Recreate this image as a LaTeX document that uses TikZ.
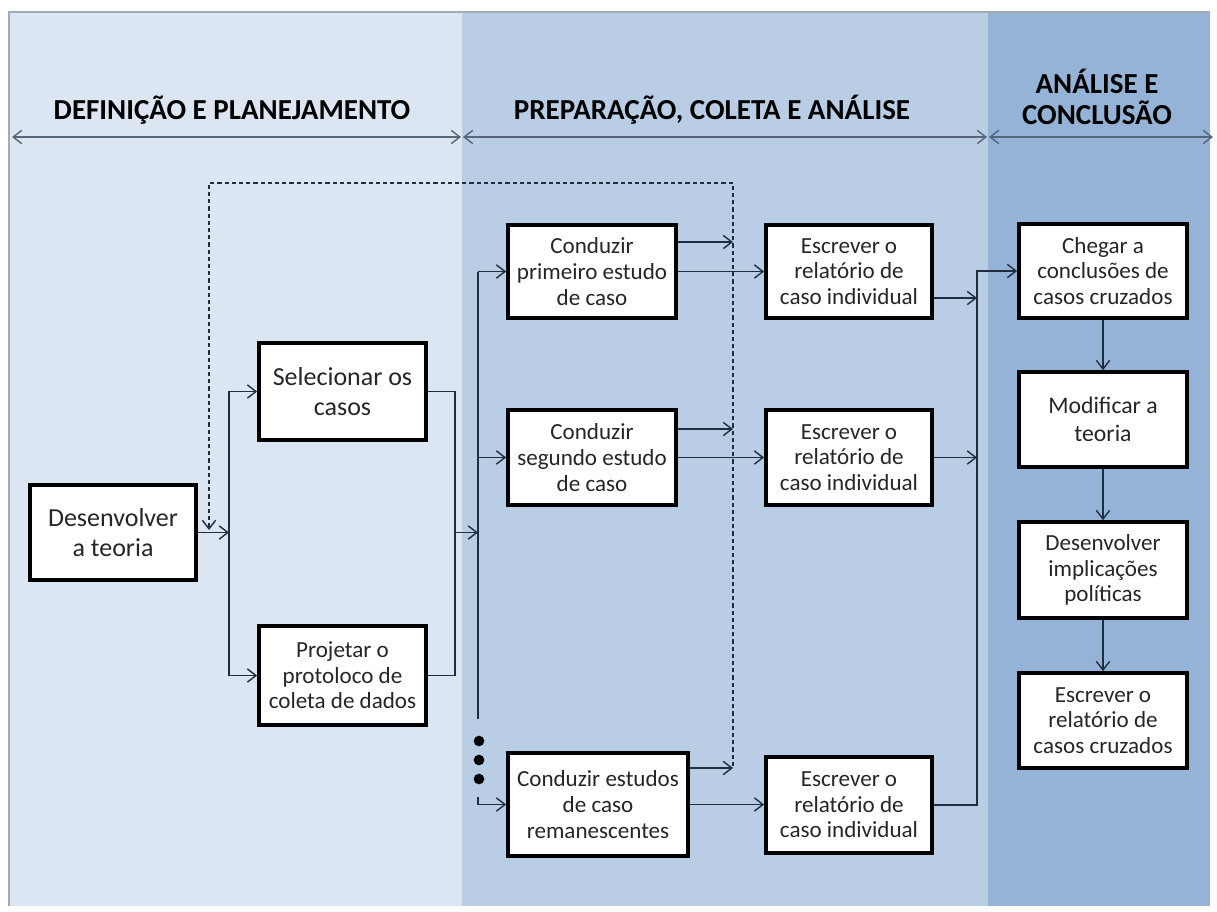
\documentclass[tikz,border=0pt]{standalone}
\usepackage{fontspec}
\setmainfont{Carlito}
\usetikzlibrary{arrows.meta}
\definecolor{pone}{HTML}{DCE6F2}
\definecolor{ptwo}{HTML}{B9CDE5}
\definecolor{pthree}{HTML}{95B3D7}
\definecolor{frame}{HTML}{A3ABB5}
\definecolor{txt}{HTML}{262626}
\definecolor{ln}{HTML}{1F2D3D}
\definecolor{hl}{HTML}{56657A}
\begin{document}
\begin{tikzpicture}[x=0.75pt,y=-0.75pt,
  box/.style={draw=black, line width=2.8pt, fill=white, inner sep=0pt, align=center, text=txt, font=\fontsize{17.3}{19.2}\selectfont},
  bigbox/.style={box, font=\fontsize{19.5}{23}\selectfont},
  midbox/.style={box, font=\fontsize{17.8}{21}\selectfont},
  conn/.style={draw=ln, line width=1.05pt},
  tip/.tip={Straight Barb[length=6.5pt,width=10pt,line width=1.05pt]},
  arr/.style={conn, -tip},
  hdr/.style={font=\fontsize{21.75}{23.25}\selectfont\bfseries, text=black, align=center},
  harr/.style={draw=hl, line width=1.4pt, tip-tip},
  dsh/.style={draw=ln, line width=0.85pt, dash pattern=on 3.2pt off 2.2pt, -tip},
  dot/.style={circle, fill=black, inner sep=0pt, minimum size=8pt}
]
\useasboundingbox (0,0) rectangle (1217,911);
% panels
\fill[white] (0,0) rectangle (1217,911);
\fill[pone] (9,12) rectangle (462,906);
\fill[ptwo] (462,12) rectangle (988,906);
\fill[pthree] (988,12) rectangle (1210,906);
\draw[frame, line width=1.8pt] (9,906) -- (9,12) -- (1210,12);

% headers
\node[hdr] (t1) at (232,110) {DEFINIÇÃO E PLANEJAMENTO};
\node[hdr] (t2) at (712,110) {PREPARAÇÃO, COLETA E ANÁLISE};
\node[hdr] (t3) at (1097,97) {ANÁLISE E\\CONCLUSÃO};
\coordinate (h1L) at (12,137);  \coordinate (h1R) at (461,137);
\coordinate (h2L) at (463,137); \coordinate (h2R) at (987,137);
\coordinate (h3L) at (989,137); \coordinate (h3R) at (1213,137);
\draw[harr] (h1L) -- (h1R);
\draw[harr] (h2L) -- (h2R);
\draw[harr] (h3L) -- (h3R);

% boxes
\node[bigbox, minimum width=124.5pt, minimum height=71.25pt] (A) at (113,532.5) {Desenvolver\\a teoria};
\node[bigbox, minimum width=125.25pt, minimum height=72.75pt] (B) at (342.5,391.5) {Selecionar os\\casos};
\node[box, minimum width=125.25pt, minimum height=74.25pt] (C) at (342.5,675.5) {Projetar o\\protoloco de\\coleta de dados};
\node[box, minimum width=126pt, minimum height=69.75pt] (D) at (592,271.5) {Conduzir\\primeiro estudo\\de caso};
\node[box, minimum width=124.5pt, minimum height=69.75pt] (E) at (849,271.5) {Escrever o\\relatório de\\caso individual};
\node[box, minimum width=126pt, minimum height=71.25pt] (F) at (592,457.5) {Conduzir\\segundo estudo\\de caso};
\node[box, minimum width=124.5pt, minimum height=71.25pt] (G) at (849,457.5) {Escrever o\\relatório de\\caso individual};
\node[box, minimum width=135pt, minimum height=77.25pt] (H) at (598,804.5) {Conduzir estudos\\de caso\\remanescentes};
\node[box, minimum width=124.5pt, minimum height=72pt] (I) at (849,805) {Escrever o\\relatório de\\caso individual};
\node[box, minimum width=126pt, minimum height=70.5pt] (J) at (1103,271) {Chegar a\\conclusões de\\casos cruzados};
\node[midbox, minimum width=126pt, minimum height=71.25pt] (K) at (1103,419.5) {Modificar a\\teoria};
\node[box, minimum width=126pt, minimum height=72pt] (L) at (1103,570) {Desenvolver\\implicações\\políticas};
\node[box, minimum width=126pt, minimum height=71.25pt] (M) at (1103,720.5) {Escrever o\\relatório de\\casos cruzados};

% left junctions
\coordinate (jA) at (229,532.5);
\coordinate (jB) at (455,532.5);
\coordinate (bus) at (478,532.5);
\draw[arr] (A.east) -- (jA);
\draw[arr] (jA) |- (B.west);
\draw[arr] (jA) |- (C.west);
\draw[conn] (B.east) -| (jB);
\draw[conn] (C.east) -| (jB);
\draw[arr] (jB) -- (bus);

% bus to case studies
\coordinate (busE) at (478,719);
\coordinate (busL) at (478,797);
\draw[conn] (D.west -| bus) -- (busE);
\draw[arr] (D.west -| bus) -- (D.west);
\draw[arr] (F.west -| bus) -- (F.west);
\draw[arr] (busL) |- (H.west);
\node[dot] (d1) at (479,741) {};
\node[dot] (d2) at (479,760) {};
\node[dot] (d3) at (479,779) {};

% dashed feedback
\coordinate (dd1) at (733,766);
\coordinate (dd2) at (733,183);
\coordinate (dd3) at (209,183);
\coordinate (dd4) at (209,530);
\draw[dsh] (dd1) -- (dd2) -- (dd3) -- (dd4);

% outputs to dashed line
\coordinate (oD) at (733,242);
\coordinate (oF) at (733,429);
\coordinate (oH) at (733,768);
\draw[arr] (oD -| D.east) -- (oD);
\draw[arr] (oF -| F.east) -- (oF);
\draw[arr] (oH -| H.east) -- (oH);

% case studies to reports
\draw[arr] (D.east) -- (E.west);
\draw[arr] (F.east) -- (G.west);
\draw[arr] (H.east) -- (H.east -| I.west);

% right bus
\coordinate (rb) at (977,271);
\coordinate (oE) at (977,298);
\draw[arr] (oE -| E.east) -- (oE);
\draw[arr] (G.east) -- (G.east -| rb);
\draw[arr] (I.east) -| (rb) -- (J.west);

% conclusion chain
\draw[arr] (J) -- (K);
\draw[arr] (K) -- (L);
\draw[arr] (L) -- (M);
\end{tikzpicture}
\end{document}
